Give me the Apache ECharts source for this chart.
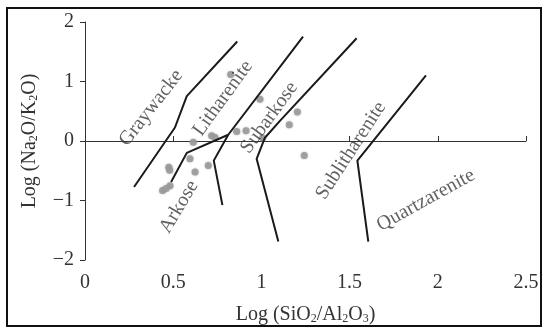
<!DOCTYPE html>
<html>
<head>
<meta charset="utf-8">
<script src="https://cdn.jsdelivr.net/npm/echarts@6/dist/echarts.min.js"></script>
<style>
  html, body { margin: 0; padding: 0; background: #fff; }
  #main { width: 545px; height: 329px; }
</style>
</head>
<body>
<div id="main"></div>
<script>
// boundary lines of the classification fields
const graywackeLine = [[0.278, -0.773], [0.51, 0.227], [0.577, 0.755], [0.863, 1.672]]
const arkoseLine = [[0.488, -0.69], [0.577, -0.2], [0.812, 0.105]]
const litharLine = [[0.779, -1.078], [0.73, -0.33], [0.812, 0.105], [1.236, 1.755]]
const subarkLine = [[1.096, -1.69], [0.973, -0.3], [1.02, 0.055], [1.105, 0.338], [1.54, 1.727]]
const sublithLine = [[1.606, -1.69], [1.544, -0.328], [1.933, 1.105]]

// samples
const samples = [
    [0.826, 1.117], [0.992, 0.70], [1.204, 0.488], [1.158, 0.272], [1.243, -0.245],
    [0.86, 0.16], [0.913, 0.172], [1.007, 0.05], [0.718, 0.088], [0.737, 0.06],
    [0.699, -0.41], [0.614, -0.023], [0.595, -0.30], [0.624, -0.52], [0.475, -0.44],
    [0.48, -0.49], [0.44, -0.83], [0.482, -0.75], [0.46, -0.80]
]

// field names, where they sit and their slant
const fieldNames = ['Graywacke', 'Litharenite', 'Arkose', 'Subarkose', 'Sublitharenite', 'Quartzarenite']
const fieldPos = [[0.375, 0.555], [0.782, 0.717], [0.533, -1.107], [1.045, 0.393], [1.508, -0.162], [1.932, -0.995]]
const fieldAngle = [52, 54, 59, 54, 57, 29]

const xTicks = [0, 2.5, 0.5]
const yTicks = [-2, 2, 1]

const font = '"Liberation Serif", "DejaVu Serif", serif'
const lineColor = '#1a1a1a'

const chart = echarts.init(document.getElementById('main'))

const boundary = (data) => ({
    type: 'line',
    data: data,
    symbol: 'none',
    silent: true,
    animation: false,
    lineStyle: { color: lineColor, width: 2 }
})

const subRich = {
    sub: { fontSize: 12, fontFamily: font, color: '#333', verticalAlign: 'bottom', padding: [6, 0, 0, 0] }
}

chart.setOption({
    animation: false,
    grid: { left: 85, right: 19, top: 22, bottom: 69, outerBoundsMode: 'none', containLabel: false },
    graphic: [{
        type: 'rect',
        z: -1,
        shape: { x: 7, y: 8, width: 534, height: 318 },
        style: { fill: 'none', stroke: '#111', lineWidth: 2 },
        silent: true
    }],
    xAxis: {
        type: 'value',
        min: xTicks[0], max: xTicks[1], interval: xTicks[2],
        name: 'Log (SiO{sub|2}/Al{sub|2}O{sub|3})',
        nameLocation: 'middle',
        nameGap: 45,
        nameTextStyle: { fontFamily: font, fontSize: 20, color: '#333', rich: subRich },
        splitLine: { show: false },
        axisLine: { lineStyle: { color: '#333', width: 1 } },
        axisTick: { inside: true, length: 5, lineStyle: { color: '#333' } },
        axisLabel: { fontFamily: font, fontSize: 20, color: '#333', margin: 13 }
    },
    yAxis: {
        type: 'value',
        min: yTicks[0], max: yTicks[1], interval: yTicks[2],
        name: 'Log (Na{sub|2}O/K{sub|2}O)',
        nameLocation: 'middle',
        nameGap: 45,
        nameTextStyle: { fontFamily: font, fontSize: 20, color: '#333', rich: subRich },
        splitLine: { show: false },
        axisLine: { onZero: false, lineStyle: { color: '#333', width: 1 } },
        axisTick: { length: 5, lineStyle: { color: '#333' } },
        axisLabel: {
            fontFamily: font, fontSize: 20, color: '#333', margin: 11,
            formatter: (v) => String(v).replace('-', '\u2212')
        }
    },
    series: [
        boundary(graywackeLine),
        boundary(arkoseLine),
        boundary(litharLine),
        boundary(subarkLine),
        boundary(sublithLine),
        {
            type: 'scatter',
            data: samples,
            symbolSize: 7,
            itemStyle: { color: '#9c9c9c', opacity: 0.9, shadowBlur: 2, shadowColor: 'rgba(120,120,120,0.6)' }
        },
        {
            type: 'scatter',
            symbolSize: 0,
            silent: true,
            data: fieldNames.map((n, i) => ({
                name: n,
                value: fieldPos[i],
                label: { rotate: fieldAngle[i] }
            })),
            label: {
                show: true,
                position: 'inside',
                formatter: '{b}',
                fontFamily: font,
                fontSize: 20,
                color: '#3a3a3a'
            }
        }
    ]
})
</script>
</body>
</html>
